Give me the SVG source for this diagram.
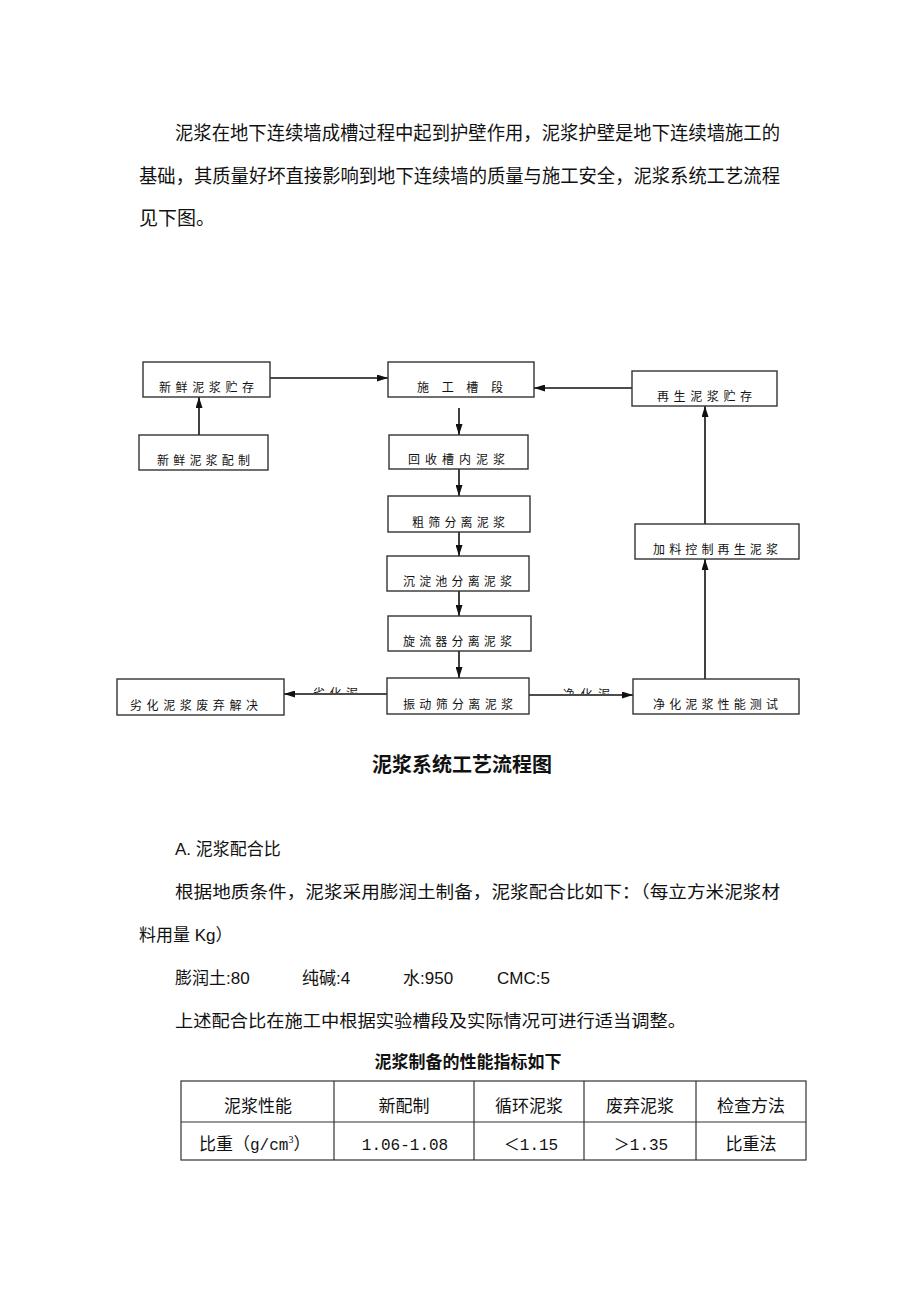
<svg xmlns="http://www.w3.org/2000/svg" width="920" height="1302" viewBox="0 0 920 1302">
<style>
.bg{fill:#fff}
.box{fill:#fff;stroke:#333;stroke-width:1.4}
.bt{font-family:"Noto Sans CJK SC","Noto Sans CJK JP",sans-serif;font-size:12px;fill:#111;font-weight:400}
.ln{stroke:#111;stroke-width:1.6;fill:none}
.para{font-family:"Liberation Serif","Noto Sans CJK SC",serif;font-size:19px;fill:#111}
.body{font-family:"Liberation Sans","Noto Sans CJK SC",sans-serif;font-size:17px;fill:#111}
.title{font-family:"Noto Sans CJK SC",sans-serif;font-size:20px;font-weight:bold;fill:#111}
.ttitle{font-family:"Noto Sans CJK SC",sans-serif;font-size:17px;font-weight:bold;fill:#111}
.tb{stroke:#333;stroke-width:1.2;fill:none}
.tt{font-family:"Liberation Serif","Noto Sans CJK SC",serif;font-size:17px;fill:#111;text-anchor:middle}
.ts{font-family:"Liberation Serif","Noto Sans CJK SC",serif;font-size:17px;fill:#111;text-anchor:start}
.tm{font-family:"Liberation Mono","Noto Sans CJK SC",monospace;font-size:16px;fill:#111;text-anchor:middle}
</style>
<defs>
<marker id="ah" markerUnits="userSpaceOnUse" markerWidth="11" markerHeight="7" refX="11" refY="3.5" orient="auto">
<path d="M0,0 L11,3.5 L0,7 z" fill="#111"/>
</marker>
<clipPath id="c1"><rect x="300" y="670" width="80" height="23"/></clipPath>
<clipPath id="c2"><rect x="550" y="670" width="80" height="24"/></clipPath>
</defs>
<rect class="bg" x="0" y="0" width="920" height="1302"/>

<g id="intro">
<text class="para" x="175" y="140" textLength="605" lengthAdjust="spacingAndGlyphs">泥浆在地下连续墙成槽过程中起到护壁作用，泥浆护壁是地下连续墙施工的</text>
<text class="para" x="139" y="183" textLength="641" lengthAdjust="spacingAndGlyphs">基础，其质量好坏直接影响到地下连续墙的质量与施工安全，泥浆系统工艺流程</text>
<text class="para" x="139" y="225">见下图。</text>
</g>

<g id="connectors">
<line class="ln" x1="199" y1="435" x2="199" y2="397" marker-end="url(#ah)"/>
<line class="ln" x1="270" y1="378" x2="388" y2="378" marker-end="url(#ah)"/>
<line class="ln" x1="632" y1="388" x2="534" y2="388" marker-end="url(#ah)"/>
<line class="ln" x1="459" y1="408" x2="459" y2="435" marker-end="url(#ah)"/>
<line class="ln" x1="459" y1="469" x2="459" y2="496" marker-end="url(#ah)"/>
<line class="ln" x1="459" y1="532" x2="459" y2="556" marker-end="url(#ah)"/>
<line class="ln" x1="459" y1="591" x2="459" y2="616" marker-end="url(#ah)"/>
<line class="ln" x1="459" y1="651" x2="459" y2="678" marker-end="url(#ah)"/>
<line class="ln" x1="387" y1="694" x2="284" y2="694" marker-end="url(#ah)"/>
<line class="ln" x1="529" y1="695" x2="633" y2="695" marker-end="url(#ah)"/>
<line class="ln" x1="705" y1="679" x2="705" y2="559" marker-end="url(#ah)"/>
<line class="ln" x1="705" y1="524" x2="705" y2="406" marker-end="url(#ah)"/>
<g clip-path="url(#c1)"><text class="bt" x="313" y="698" textLength="45" lengthAdjust="spacing">劣化泥</text></g>
<g clip-path="url(#c2)"><text class="bt" x="563" y="699" textLength="47" lengthAdjust="spacing">净化泥</text></g>
</g>

<g id="n_fresh_store">
<rect class="box" x="143" y="362" width="127" height="35"/>
<text class="bt" x="159" y="392" textLength="95" lengthAdjust="spacing">新鲜泥浆贮存</text>
</g>
<g id="n_fresh_make">
<rect class="box" x="139" y="435" width="129" height="35"/>
<text class="bt" x="157" y="465" textLength="93" lengthAdjust="spacing">新鲜泥浆配制</text>
</g>
<g id="n_trench">
<rect class="box" x="388" y="362" width="146" height="35"/>
<text class="bt" x="417" y="392" textLength="86" lengthAdjust="spacing">施工槽段</text>
</g>
<g id="n_regen_store">
<rect class="box" x="632" y="371" width="145" height="35"/>
<text class="bt" x="657" y="401" textLength="95" lengthAdjust="spacing">再生泥浆贮存</text>
</g>
<g id="n_recover">
<rect class="box" x="389" y="435" width="139" height="34"/>
<text class="bt" x="408" y="464" textLength="97" lengthAdjust="spacing">回收槽内泥浆</text>
</g>
<g id="n_coarse">
<rect class="box" x="388" y="496" width="142" height="36"/>
<text class="bt" x="412" y="527" textLength="93" lengthAdjust="spacing">粗筛分离泥浆</text>
</g>
<g id="n_settle">
<rect class="box" x="387" y="556" width="142" height="35"/>
<text class="bt" x="403" y="586" textLength="109" lengthAdjust="spacing">沉淀池分离泥浆</text>
</g>
<g id="n_cyclone">
<rect class="box" x="388" y="616" width="143" height="35"/>
<text class="bt" x="403" y="646" textLength="109" lengthAdjust="spacing">旋流器分离泥浆</text>
</g>
<g id="n_vibrate">
<rect class="box" x="387" y="678" width="142" height="36"/>
<text class="bt" x="403" y="709" textLength="110" lengthAdjust="spacing">振动筛分离泥浆</text>
</g>
<g id="n_waste">
<rect class="box" x="117" y="679" width="167" height="36"/>
<text class="bt" x="130" y="710" textLength="128" lengthAdjust="spacing">劣化泥浆废弃解决</text>
</g>
<g id="n_test">
<rect class="box" x="633" y="679" width="166" height="35"/>
<text class="bt" x="653" y="709" textLength="125" lengthAdjust="spacing">净化泥浆性能测试</text>
</g>
<g id="n_additive">
<rect class="box" x="635" y="524" width="164" height="35"/>
<text class="bt" x="653" y="554" textLength="125" lengthAdjust="spacing">加料控制再生泥浆</text>
</g>

<g id="caption">
<text class="title" x="462" y="772" text-anchor="middle">泥浆系统工艺流程图</text>
</g>

<g id="body">
<text class="body" x="175" y="855">A.  泥浆配合比</text>
<text class="body" x="175" y="898" textLength="605" lengthAdjust="spacingAndGlyphs">根据地质条件，泥浆采用膨润土制备，泥浆配合比如下：（每立方米泥浆材</text>
<text class="body" x="139" y="941">料用量 Kg）</text>
<text class="body" x="175" y="984">膨润土:80</text>
<text class="body" x="302" y="984">纯碱:4</text>
<text class="body" x="403" y="984">水:950</text>
<text class="body" x="497" y="984">CMC:5</text>
<text class="body" x="175" y="1027" textLength="511" lengthAdjust="spacingAndGlyphs">上述配合比在施工中根据实验槽段及实际情况可进行适当调整。</text>
</g>

<g id="table">
<text class="ttitle" x="468" y="1068" text-anchor="middle">泥浆制备的性能指标如下</text>
<rect class="tb" x="181" y="1081" width="625" height="79"/>
<line class="tb" x1="181" y1="1122" x2="806" y2="1122"/>
<line class="tb" x1="334" y1="1081" x2="334" y2="1160"/>
<line class="tb" x1="474" y1="1081" x2="474" y2="1160"/>
<line class="tb" x1="584" y1="1081" x2="584" y2="1160"/>
<line class="tb" x1="696" y1="1081" x2="696" y2="1160"/>
<text class="tt" x="258" y="1112">泥浆性能</text>
<text class="tt" x="404" y="1112">新配制</text>
<text class="tt" x="529" y="1112">循环泥浆</text>
<text class="tt" x="640" y="1112">废弃泥浆</text>
<text class="tt" x="751" y="1112">检查方法</text>
<text class="ts" x="199" y="1150">比重（<tspan font-family="Liberation Mono, monospace" font-size="16">g/cm</tspan><tspan font-size="10" dy="-7">3</tspan><tspan dy="7">）</tspan></text>
<text class="tm" x="405" y="1150">1.06-1.08</text>
<text class="tm" x="531" y="1150">＜1.15</text>
<text class="tm" x="641" y="1150">＞1.35</text>
<text class="tt" x="751" y="1150">比重法</text>
</g>
</svg>
